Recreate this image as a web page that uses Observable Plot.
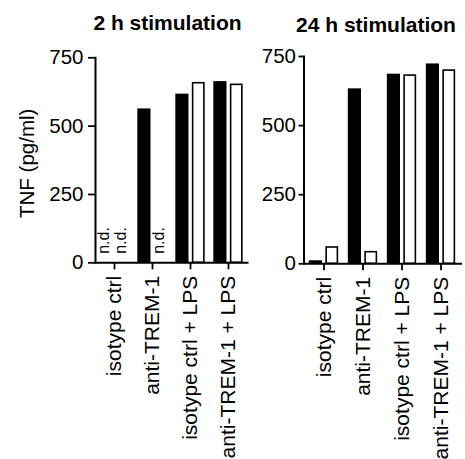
<!DOCTYPE html>
<html>
<head>
<meta charset="utf-8">
<script src="https://cdn.jsdelivr.net/npm/d3@7"></script>
<script src="https://cdn.jsdelivr.net/npm/@observablehq/plot@0.6"></script>
<style>
html, body { margin: 0; padding: 0; background: #fff; }
#wrap { position: relative; width: 465px; height: 459px; overflow: hidden; background: #fff; }
#wrap svg { position: absolute; top: 0; }
</style>
</head>
<body>
<div id="wrap"></div>
<script>
// ---- data ----
const categories = ["isotype ctrl", "anti-TREM-1", "isotype ctrl + LPS", "anti-TREM-1 + LPS"];
const seriesNames = ["filled", "open"];
const tnf2hFilled = [null, 563, 617, 663];   // null = n.d.
const tnf2hOpen   = [null, null, 657, 651];
const tnf24hFilled = [11, 633, 686, 723];
const tnf24hOpen   = [59, 42, 681, 699];
const yTicks = [0, 250, 500, 750];
const titles = ["2 h stimulation", "24 h stimulation"];
const yLabel = "TNF (pg/ml)";
const ndLabel = "n.d.";

function rows(filled, open) {
  return categories.flatMap((c, i) => [
    {category: c, series: seriesNames[0], value: filled[i]},
    {category: c, series: seriesNames[1], value: open[i]}
  ]);
}

const font = "'Liberation Sans', Arial, Helvetica, sans-serif";

function panel(o) {
  const data = o.data;
  const half = o.half;
  const filled = data.filter(d => d.series === seriesNames[0] && d.value != null);
  const open = data.filter(d => d.series === seriesNames[1] && d.value != null);
  const ndFilled = data.filter(d => d.series === seriesNames[0] && d.value == null);
  const ndOpen = data.filter(d => d.series === seriesNames[1] && d.value == null);
  const marks = [
    Plot.barY(filled, {x: "category", y: "value", fill: "black",
      insetLeft: half - 14.8, insetRight: half + 1.4}),
    Plot.barY(open, {x: "category", y: "value", fill: "white", stroke: "black", strokeWidth: 1.6,
      insetLeft: half + 2.5, insetRight: half - 14}),
    Plot.text(ndFilled, {x: "category", y: 0, text: () => ndLabel, rotate: -90, textAnchor: "start",
      lineAnchor: "middle", dx: -11, dy: -9, fontSize: 16, fill: "black"}),
    Plot.text(ndOpen, {x: "category", y: 0, text: () => ndLabel, rotate: -90, textAnchor: "start",
      lineAnchor: "middle", dx: 6, dy: -9, fontSize: 16, fill: "black"}),
    Plot.axisY(yTicks, {tickSize: o.tickSize, tickPadding: o.tickPadding, fontSize: 20.5,
      strokeWidth: 1.8, label: null}),
    Plot.axisX({tickRotate: -90, tickSize: 7, tickPadding: 6, fontSize: 21, strokeWidth: 1.8, label: null}),
    Plot.frame({anchor: "left", strokeWidth: 2, stroke: "black"}),
    Plot.frame({anchor: "bottom", strokeWidth: 2, stroke: "black"}),
    Plot.text([o.title], {frameAnchor: "top", textAnchor: "middle", lineAnchor: "middle",
      dx: o.titleDx, dy: o.titleDy, fontSize: 21, fontWeight: "bold", fill: "black"})
  ];
  if (o.showLabel) {
    marks.push(Plot.text([yLabel], {frameAnchor: "left", rotate: -90, textAnchor: "middle",
      lineAnchor: "middle", dx: -68, dy: 3, fontSize: 20.5, fill: "black"}));
  }
  const svg = Plot.plot({
    width: o.width,
    height: 459,
    marginLeft: o.marginLeft,
    marginRight: o.marginRight,
    marginTop: o.marginTop,
    marginBottom: o.marginBottom,
    style: {fontFamily: font, color: "black", background: "transparent", overflow: "visible"},
    x: {domain: categories, padding: 0, axis: null},
    y: {domain: [0, 750], axis: null},
    marks
  });
  svg.style.left = o.left + "px";
  return svg;
}

const wrap = document.getElementById("wrap");
wrap.appendChild(panel({
  data: rows(tnf2hFilled, tnf2hOpen), title: titles[0], left: 0, width: 250,
  marginLeft: 95, marginRight: 3, marginTop: 57.3, marginBottom: 196.7,
  half: 19.125, tickSize: 7, tickPadding: 5, showLabel: true, titleDx: -4, titleDy: -34.7
}));
wrap.appendChild(panel({
  data: rows(tnf24hFilled, tnf24hOpen), title: titles[1], left: 250, width: 215,
  marginLeft: 53.5, marginRight: 4.5, marginTop: 56, marginBottom: 195.7,
  half: 19.625, tickSize: 5, tickPadding: 3, showLabel: false, titleDx: -6.5, titleDy: -31.4
}));
</script>
</body>
</html>
